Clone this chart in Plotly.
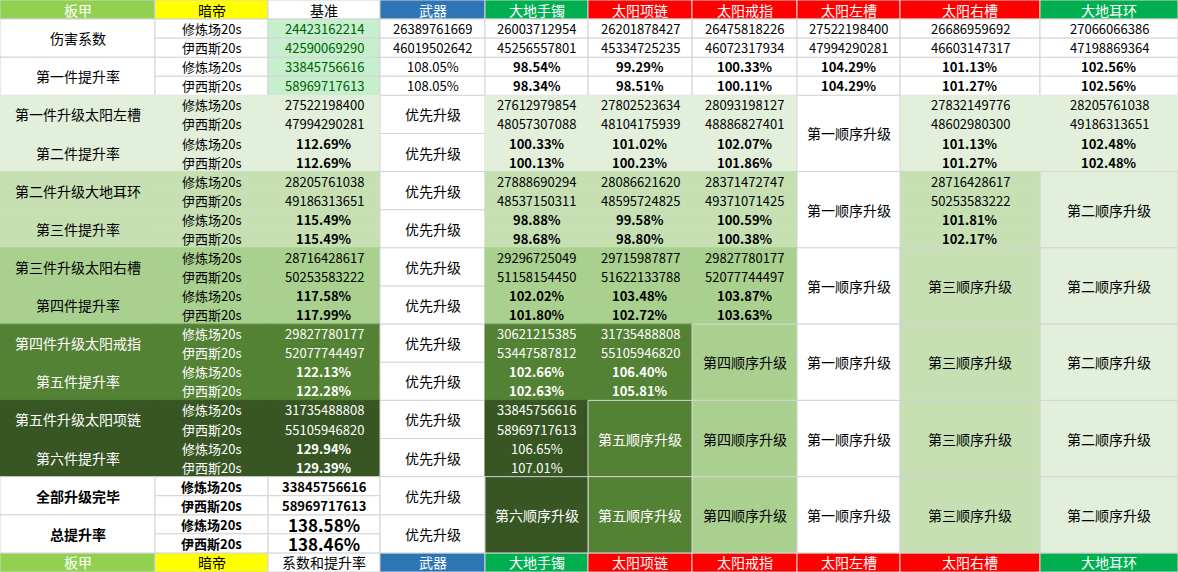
import plotly.graph_objects as go

# column headers / footers
header = ["板甲", "暗帝", "基准", "武器", "大地手镯", "太阳项链", "太阳戒指", "太阳左槽", "太阳右槽", "大地耳环"]
footer = ["板甲", "暗帝", "系数和提升率", "武器", "大地手镯", "太阳项链", "太阳戒指", "太阳左槽", "太阳右槽", "大地耳环"]
header_bg = ["#92D050", "#FFFF00", "#FFFFFF", "#2E75B6", "#00B050", "#FF0000", "#FF0000", "#FF0000", "#FF0000", "#00B050"]
header_fc = ["white", "black", "black", "white", "white", "white", "white", "white", "white", "white"]

scenes = ["修炼场20s", "伊西斯20s"]

# base coefficients, cols 3..9
base_coef = [24423162214, 42590069290]
coef_cols = [
    [26389761669, 26003712954, 26201878427, 26475818226, 27522198400, 26686959692, 27066066386],
    [46019502642, 45256557801, 45334725235, 46072317934, 47994290281, 46603147317, 47198869364],
]
base_first = [33845756616, 58969717613]
first_rate = [
    [108.05, 98.54, 99.29, 100.33, 104.29, 101.13, 102.56],
    [108.05, 98.34, 98.51, 100.11, 104.29, 101.27, 102.56],
]

# upgrade steps
step_labels = ["第一件升级太阳左槽", "第二件升级大地耳环", "第三件升级太阳右槽", "第四件升级太阳戒指", "第五件升级太阳项链"]
rate_labels = ["第二件提升率", "第三件提升率", "第四件提升率", "第五件提升率", "第六件提升率"]
step_coef = [
    [27522198400, 47994290281],
    [28205761038, 49186313651],
    [28716428617, 50253583222],
    [29827780177, 52077744497],
    [31735488808, 55105946820],
]
step_rate = [[112.69, 112.69], [115.49, 115.49], [117.58, 117.99], [122.13, 122.28], [129.94, 129.39]]
cand_cols = [[4, 5, 6, 8, 9], [4, 5, 6, 8], [4, 5, 6], [4, 5], [4]]
cand_coef = [
    [[27612979854, 48057307088], [27802523634, 48104175939], [28093198127, 48886827401],
     [27832149776, 48602980300], [28205761038, 49186313651]],
    [[27888690294, 48537150311], [28086621620, 48595724825], [28371472747, 49371071425],
     [28716428617, 50253583222]],
    [[29296725049, 51158154450], [29715987877, 51622133788], [29827780177, 52077744497]],
    [[30621215385, 53447587812], [31735488808, 55105946820]],
    [[33845756616, 58969717613]],
]
cand_rate = [
    [[100.33, 100.13], [101.02, 100.23], [102.07, 101.86], [101.13, 101.27], [102.48, 102.48]],
    [[98.88, 98.68], [99.58, 98.80], [100.59, 100.38], [101.81, 102.17]],
    [[102.02, 101.80], [103.48, 102.72], [103.87, 103.63]],
    [[102.66, 102.63], [106.40, 105.81]],
    [[106.65, 107.01]],
]
band_bg = ["#E2EFDA", "#C6E0B4", "#A9D08E", "#548235", "#375623"]
band_fc = ["black", "black", "black", "white", "white"]

# upgrade order labels
order_cols = [7, 9, 8, 6, 5, 4]
order_names = ["第一顺序升级", "第二顺序升级", "第三顺序升级", "第四顺序升级", "第五顺序升级", "第六顺序升级"]
order_bg = ["#FFFFFF", "#E2EFDA", "#C6E0B4", "#A9D08E", "#548235", "#375623"]
order_fc = ["black", "black", "black", "black", "white", "white"]

final_coef = [33845756616, 58969717613]
total_rate = [138.58, 138.46]

edges = [0, 155, 268, 380, 485, 588, 692, 797, 900, 1040, 1178]
FONT = "Noto Sans CJK SC, sans-serif"

shapes, annos = [], []


def cell(c, r, span, text, bg="#FFFFFF", fc="black", bold=False, size=13, line="#D4D4D4"):
    shapes.append(dict(type="rect", xref="x", yref="y", x0=edges[c], x1=edges[c + 1], y0=r, y1=r + span,
                       fillcolor=bg, line=dict(color=line, width=1), layer="below"))
    if text != "":
        t = "<b>%s</b>" % text if bold else str(text)
        annos.append(dict(x=(edges[c] + edges[c + 1]) / 2, y=r + span / 2, xref="x", yref="y", text=t,
                          showarrow=False, font=dict(family=FONT, size=size, color=fc)))


pct = lambda v: "%.2f%%" % v

for c in range(10):
    cell(c, 0, 1, header[c], header_bg[c], header_fc[c], size=14)
    cell(c, 29, 1, footer[c], header_bg[c], header_fc[c], size=14)

# rows 1-4
cell(0, 1, 2, "伤害系数", size=14)
cell(0, 3, 2, "第一件提升率", size=14)
for i in range(2):
    cell(1, 1 + i, 1, scenes[i])
    cell(1, 3 + i, 1, scenes[i])
    cell(2, 1 + i, 1, base_coef[i], "#C6EFCE", "#006100")
    cell(2, 3 + i, 1, base_first[i], "#C6EFCE", "#006100")
    for k in range(7):
        cell(3 + k, 1 + i, 1, coef_cols[i][k])
        cell(3 + k, 3 + i, 1, pct(first_rate[i][k]), bold=k > 0)

# upgrade steps
for s in range(5):
    r0 = 5 + 4 * s
    bg, fc = band_bg[s], band_fc[s]
    cell(0, r0, 2, step_labels[s], bg, fc, size=14, line=bg)
    cell(0, r0 + 2, 2, rate_labels[s], bg, fc, size=14, line=bg)
    for i in range(4):
        cell(1, r0 + i, 1, scenes[i % 2], bg, fc, line=bg)
    for i in range(2):
        cell(2, r0 + i, 1, step_coef[s][i], bg, fc, line=bg)
        cell(2, r0 + 2 + i, 1, pct(step_rate[s][i]), bg, fc, bold=True, line=bg)
    cell(3, r0, 2, "优先升级", size=14)
    cell(3, r0 + 2, 2, "优先升级", size=14)
    for j, c in enumerate(cand_cols[s]):
        for i in range(2):
            cell(c, r0 + i, 1, cand_coef[s][j][i], bg, fc, line=bg)
            cell(c, r0 + 2 + i, 1, pct(cand_rate[s][j][i]), bg, fc, bold=s < 4, line=bg)
    for k in range(s + 1):
        cell(order_cols[k], r0, 4, order_names[k], order_bg[k], order_fc[k], size=14)

# final rows 25-28
cell(0, 25, 2, "全部升级完毕", bold=True, size=14)
cell(0, 27, 2, "总提升率", bold=True, size=14)
for i in range(2):
    cell(1, 25 + i, 1, scenes[i], bold=True)
    cell(1, 27 + i, 1, scenes[i], bold=True)
    cell(2, 25 + i, 1, final_coef[i], bold=True)
    cell(2, 27 + i, 1, pct(total_rate[i]), bold=True, size=17)
cell(3, 25, 2, "优先升级", size=14)
cell(3, 27, 2, "优先升级", size=14)
for k in range(6):
    cell(order_cols[k], 25, 4, order_names[k], order_bg[k], order_fc[k], size=14)

fig = go.Figure(go.Scatter(x=[0, 1178], y=[0, 30], mode="markers", marker=dict(opacity=0), hoverinfo="skip"))
fig.update_layout(
    width=1178, height=572, margin=dict(l=0, r=0, t=0, b=0),
    paper_bgcolor="white", plot_bgcolor="white", showlegend=False,
    shapes=shapes, annotations=annos,
    xaxis=dict(range=[0, 1178], visible=False, fixedrange=True),
    yaxis=dict(range=[30, 0], visible=False, fixedrange=True),
)
fig.write_html("out.html", config={"displayModeBar": False},
               post_script="document.body.style.margin='0';document.body.style.overflow='hidden';")
